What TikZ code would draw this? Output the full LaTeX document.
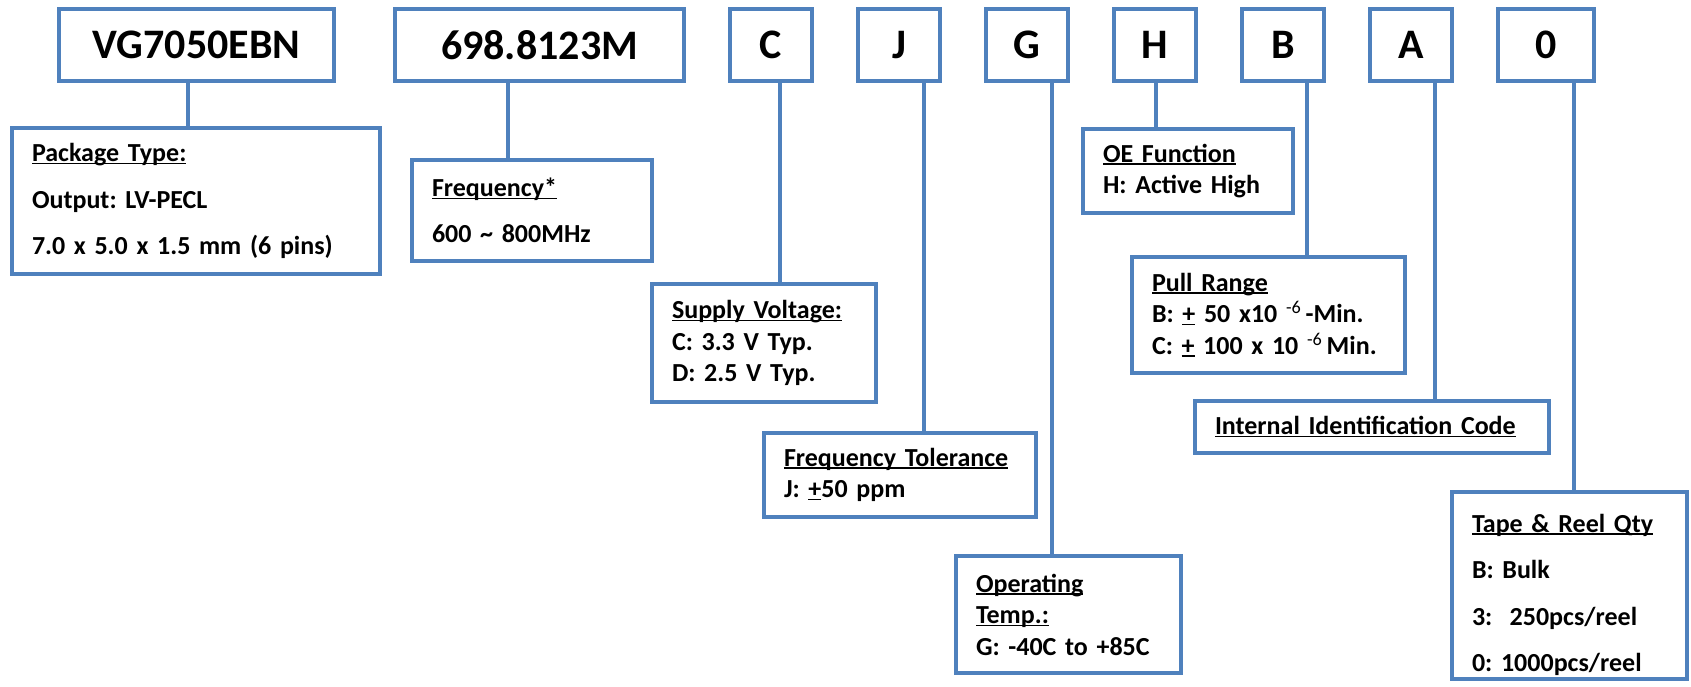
\documentclass[tikz,border=0pt]{standalone}
\usepackage{fontspec}
\setmainfont{Carlito}
\usetikzlibrary{positioning}
\definecolor{boxblue}{RGB}{79,129,189}
\newsavebox{\ulbox}
\newcommand{\undl}[1]{\leavevmode\sbox{\ulbox}{#1}\rlap{\rule[-2.6pt]{\wd\ulbox}{1.5pt}}\usebox{\ulbox}}
\tikzset{
    link/.style={draw=boxblue, line width=4pt},
    code/.style={draw=boxblue, line width=4pt, fill=white, font=\fontsize{42}{50}\selectfont\bfseries, minimum height=72pt, inner sep=0pt},
    info/.style={draw=boxblue, line width=4pt, fill=white, align=left, inner xsep=20pt, inner ysep=0pt, font=\fontsize{26}{31.5}\selectfont\bfseries\frenchspacing},
    wide/.style={info, font=\fontsize{26}{46.5}\selectfont\bfseries\frenchspacing}
}

\begin{document}
\begin{tikzpicture}[x=1pt, y=-1pt, node distance=42pt]
    \useasboundingbox (0,0) rectangle (1691,687);
    % part number
    \node (vg) [code, minimum width=275pt] at (196.5,45) {VG7050EBN};
    \node (mhz) [code, minimum width=289pt, right=57pt of vg] {698.8123M};
    \node (cv) [code, minimum width=82pt, right=of mhz] {C};
    \node (jt) [code, minimum width=82pt, right=of cv] {J};
    \node (gt) [code, minimum width=82pt, right=of jt] {G};
    \node (ho) [code, minimum width=82pt, right=of gt] {H};
    \node (bp) [code, minimum width=82pt, right=of ho] {B};
    \node (ai) [code, minimum width=82pt, right=of bp] {A};
    \node (zr) [code, minimum width=96pt, right=of ai] {0};
    % descriptions
    \node (pkg) [wide, text width=328pt, minimum height=146pt] at (196,201) {\undl{Package Type:}\\Output: LV-PECL\\7.0 x 5.0 x 1.5 mm (6 pins)};
    \node (freq) [wide, text width=200pt, minimum height=101pt] at (532,210.5) {\undl{Frequency*}\\600 \textasciitilde{} 800MHz};
    \node (supply) [info, text width=184pt, minimum height=118pt] at (764,343) {\undl{Supply Voltage:}\\C: 3.3 V Typ.\\D: 2.5 V Typ.};
    \node (tol) [info, text width=232pt, minimum height=84pt] at (900,475) {\undl{Frequency Tolerance}\\J: \undl{+}50 ppm};
    \node (temp) [info, text width=185pt, minimum height=117pt] at (1068.5,614.5) {\undl{Operating}\\\undl{Temp.:}\\G: -40C to +85C};
    \node (oe) [info, text width=170pt, minimum height=84pt] at (1188,171) {\undl{OE Function}\\H: Active High};
    \node (pull) [info, text width=233pt, minimum height=116pt] at (1268.5,315) {\undl{Pull Range}\\B: \undl{+} 50 x10 \textsuperscript{\mdseries -6}\,-Min.\\C: \undl{+} 100 x 10 \textsuperscript{\mdseries -6}\,Min.};
    \node (idcode) [info, text width=314pt, minimum height=52pt] at (1372,427) {\undl{Internal Identification Code}};
    \node (reel) [wide, text width=195pt, minimum height=187pt] at (1569.5,585.5) {\rule{0pt}{37pt}\undl{Tape \& Reel Qty}\\B: Bulk\\3:\ \ 250pcs/reel\\0: 1000pcs/reel};
    % connectors
    \draw [link] (vg.south -| 188,0) -- (pkg.north -| 188,0);
    \draw [link] (mhz.south -| 508,0) -- (freq.north -| 508,0);
    \draw [link] (cv.south -| 780,0) -- (supply.north -| 780,0);
    \draw [link] (jt.south -| 924,0) -- (tol.north -| 924,0);
    \draw [link] (gt.south -| 1052,0) -- (temp.north -| 1052,0);
    \draw [link] (ho.south -| 1156,0) -- (oe.north -| 1156,0);
    \draw [link] (bp.south -| 1307,0) -- (pull.north -| 1307,0);
    \draw [link] (ai.south -| 1435,0) -- (idcode.north -| 1435,0);
    \draw [link] (zr.south -| 1574,0) -- (reel.north -| 1574,0);
\end{tikzpicture}
\end{document}
